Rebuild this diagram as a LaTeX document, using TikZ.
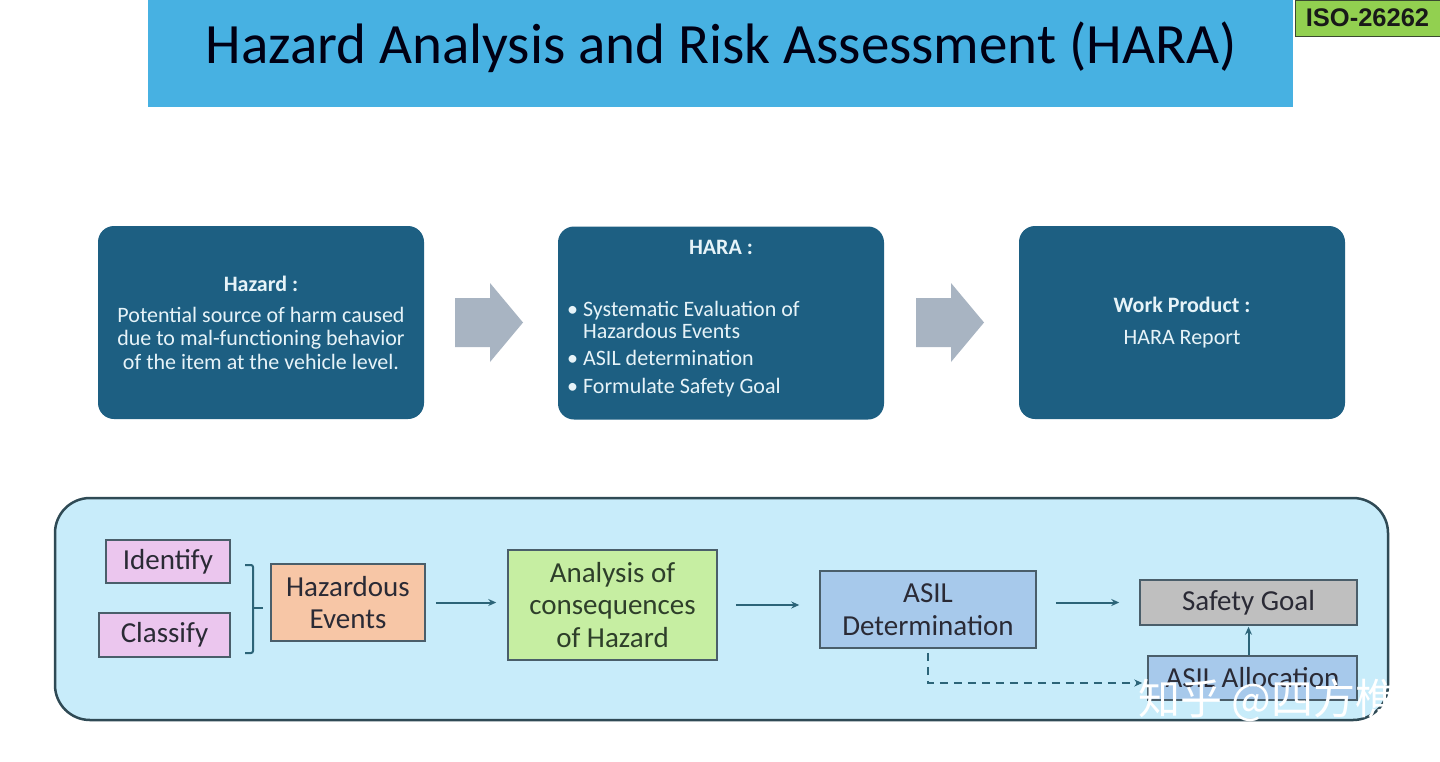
\documentclass[tikz,border=0pt]{standalone}
\usepackage{fontspec}
\setmainfont{Carlito}
\newfontfamily\isofont{Liberation Sans}
\newfontfamily\cjk{Noto Sans CJK SC}
\usetikzlibrary{arrows.meta,calc}
\definecolor{titleblue}{HTML}{47B1E2}
\definecolor{isogreen}{HTML}{92D050}
\definecolor{isoborder}{HTML}{3A4A30}
\definecolor{darkfill}{HTML}{1D5F82}
\definecolor{lighttext}{HTML}{E6F3F8}
\definecolor{greyarrow}{HTML}{A8B4C2}
\definecolor{contfill}{HTML}{C8ECFA}
\definecolor{contborder}{HTML}{2F4A55}
\definecolor{pinkfill}{HTML}{EBC6EE}
\definecolor{peachfill}{HTML}{F7C6A6}
\definecolor{greenfill}{HTML}{C6EEA2}
\definecolor{bluefill}{HTML}{A7C9EB}
\definecolor{greyfill}{HTML}{BFBFBF}
\definecolor{boxborder}{HTML}{4A5E6A}
\definecolor{conn}{HTML}{2C6478}
\definecolor{darktext}{HTML}{2A2A35}
\definecolor{greentext}{HTML}{2E3F2A}
\begin{document}
\begin{tikzpicture}[x=1pt,y=-1pt,
  titlebar/.style={fill=titleblue,draw=none,minimum width=1145pt,minimum height=107pt,inner sep=0pt},
  titletext/.style={font=\fontsize{57}{60}\selectfont,text=black!92!blue,inner sep=0pt},
  isobox/.style={fill=isogreen,draw=isoborder,line width=1pt,minimum width=145pt,minimum height=36pt,inner sep=0pt,font=\isofont\bfseries\fontsize{25.5}{26}\selectfont,text=black!90},
  darkbox/.style={fill=darkfill,draw=none,rounded corners=16pt,minimum width=326pt,minimum height=193pt,inner sep=0pt,text=lighttext,align=center,font=\fontsize{22}{23.5}\selectfont},
  boxtxt/.style={text=lighttext,inner sep=0pt,font=\fontsize{22}{22}\selectfont},
  garrow/.style={fill=greyarrow,draw=none},
  container/.style={fill=contfill,draw=contborder,line width=2.5pt,rounded corners=35pt,minimum width=1333pt,minimum height=222pt,inner sep=0pt},
  stepbox/.style={draw=boxborder,line width=1.5pt,inner sep=0pt,align=center,text=darktext,font=\fontsize{29}{32.5}\selectfont},
  flow/.style={draw=conn,line width=2pt,-{Stealth[length=8pt,width=7pt]}},
  brace/.style={draw=conn,line width=2pt,rounded corners=2pt}
]
\useasboundingbox (0,0) rectangle (1440,761);
\fill[white] (0,0) rectangle (1440,761);

% title
\node[titlebar] (title) at (720.5,53.5) {};
\node[titletext,anchor=base] (titleT) at (721,63) {Hazard Analysis and Risk Assessment (HARA)};
\node[isobox] (iso) at (1367.5,18) {ISO-26262};

% top row
\node[darkbox] (hz) at (261,322.5) {\textbf{Hazard :}\\[7.5pt]Potential source of harm caused\\due to mal-functioning behavior\\of the item at the vehicle level.};
\node[darkbox] (hara) at (721,323) {};
\node[boxtxt] (haraH) at (721,247) {\textbf{HARA :}};
\node[boxtxt,anchor=west,align=left,font=\fontsize{22}{22}\selectfont] (haraL) at (567,349.5)
 {\textbullet\ Systematic Evaluation of\\\hphantom{\textbullet\ }Hazardous Events\\[5pt]\textbullet\ ASIL determination\\[6pt]\textbullet\ Formulate Safety Goal};
\node[darkbox] (wp) at (1182,322.5) {\textbf{Work Product :}\\[8.5pt]HARA Report};

% grey block arrows between the top boxes
\foreach \cx in {489,950}{
  \fill[garrow] (\cx-34,298) -- (\cx+1,298) -- (\cx+1,283) -- (\cx+34,322.5)
    -- (\cx+1,362) -- (\cx+1,347) -- (\cx-34,347) -- cycle;
}

% bottom process
\node[container] (proc) at (721.5,609) {};
\node[stepbox,fill=pinkfill,minimum width=124pt,minimum height=43pt] (id) at (168,561.5) {Identify};
\node[stepbox,fill=pinkfill,minimum width=131pt,minimum height=44pt] (cl) at (164.5,635) {Classify};
\node[stepbox,fill=peachfill,minimum width=154pt,minimum height=77pt] (he) at (348,602.5) {Hazardous\\Events};
\node[stepbox,fill=greenfill,minimum width=209pt,minimum height=110pt,text=greentext] (an) at (612.5,605) {Analysis of\\consequences\\of Hazard};
\node[stepbox,fill=bluefill,minimum width=216pt,minimum height=77pt] (det) at (928,609.5) {ASIL\\Determination};
\node[stepbox,fill=greyfill,minimum width=217pt,minimum height=45pt] (sg) at (1248.5,602.5) {Safety Goal};
\node[stepbox,fill=bluefill,minimum width=209pt,minimum height=44pt] (al) at (1252.5,678) {ASIL Allocation};

% brace joining Identify and Classify
\draw[brace] (245,565) -- (253,565) -- (253,653) -- (245,653);
\draw[brace] (253,608) -- (263,608);

% connectors
\draw[flow,shorten <=10pt,shorten >=11pt] (he.east) -- (he.east -| an.west);
\draw[flow,shorten <=18pt,shorten >=20pt] (an.east) -- (an.east -| det.west);
\draw[flow,shorten <=19pt,shorten >=20pt] (det.east |- sg.west) -- (sg.west);
\draw[flow,shorten >=1pt] (al.north -| sg.south) -- (sg.south);
\draw[flow,dash pattern=on 8pt off 6pt,shorten <=4pt,shorten >=5pt] (det.south) |- ([yshift=-5pt]al.west);

% watermark
\node[text=white,inner sep=0pt,font=\cjk\fontsize{42}{42}\selectfont] (wm) at (1268,700) {知乎 @四方樵};
\end{tikzpicture}
\end{document}
